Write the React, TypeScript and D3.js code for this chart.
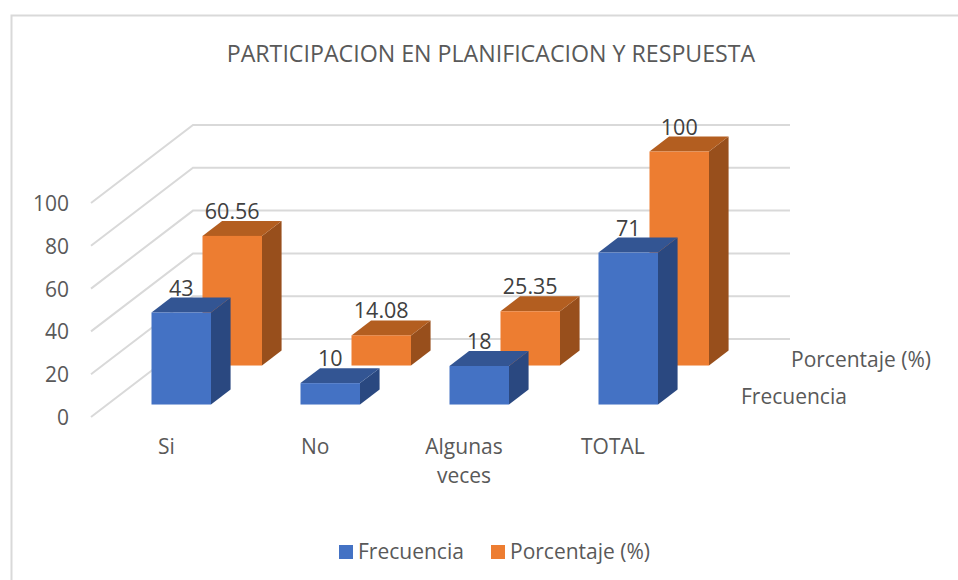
import React from "react";
import * as d3 from "d3";

const title = "PARTICIPACION EN PLANIFICACION Y RESPUESTA";
const categories = ["Si", "No", "Algunas veces", "TOTAL"];
const frecuencia = [43, 10, 18, 71];
const porcentaje = [60.56, 14.08, 25.35, 100];
const frecuenciaLabels = ["43", "10", "18", "71"];
const porcentajeLabels = ["60.56", "14.08", "25.35", "100"];
const yTicks = [0, 20, 40, 60, 80, 100];
const seriesNames = ["Frecuencia", "Porcentaje (%)"];

const FONT = "'Open Sans', sans-serif";
const BLUE = { front: "#4472c4", top: "#335593", side: "#2a4880" };
const ORANGE = { front: "#ed7d31", top: "#b35e20", side: "#984f1c" };
const GRID = "#d9d9d9";

// value to pixel height on the wall
const y = d3.scaleLinear().domain([0, 100]).range([0, 214]);
// floor depth: 0 at the front edge, 1 at the back wall
const depthX = d3.scaleLinear().domain([0, 1]).range([0, 102]);
const depthY = d3.scaleLinear().domain([0, 1]).range([0, 78]);
const FLOOR_X = 91;
const FLOOR_Y = 417;
const WALL_RIGHT = 790;
const xBand = d3.scaleBand<string>().domain(categories).range([139.5, 735.5]).paddingInner(0).paddingOuter(0);
const BAR_W = 59.5;
// per series: x shift inside the band, depth of the front face, depth of the back face
const series = [
  { values: frecuencia, labels: frecuenciaLabels, color: BLUE, shift: 12, d0: 0.16, d1: 0.352 },
  { values: porcentaje, labels: porcentajeLabels, color: ORANGE, shift: 63, d0: 0.66, d1: 0.852 },
];

function Bar({ x, value, d0, d1, color }: { x: number; value: number; d0: number; d1: number; color: typeof BLUE }) {
  const base = FLOOR_Y - depthY(d0);
  const top = base - y(value);
  const dx = depthX(d1) - depthX(d0);
  const dy = depthY(d1) - depthY(d0);
  const r = x + BAR_W;
  const p = (pts: number[][]) => pts.map((a) => a.join(",")).join(" ");
  return (
    <g>
      <polygon points={p([[r, top], [r + dx, top - dy], [r + dx, base - dy], [r, base]])} fill={color.side} />
      <polygon points={p([[x, top], [x + dx, top - dy], [r + dx, top - dy], [r, top]])} fill={color.top} />
      <rect x={x} y={top} width={BAR_W} height={y(value)} fill={color.front} />
    </g>
  );
}

export default function App() {
  const barX = (cat: string, shift: number) => (xBand(cat) as number) + shift;
  const fs = 21;
  return (
    <svg width={958} height={580} style={{ position: "absolute", left: 0, top: 0, background: "#fff" }} fontFamily={FONT}>
      <path d="M11.5,580 V15.5 H958" fill="none" stroke={GRID} strokeWidth={2} />
      <text x={491} y={62} textAnchor="middle" fontSize={23.2} fill="#595959">{title}</text>

      {yTicks.map((t) => (
        <g key={t}>
          <polyline
            points={[
              [FLOOR_X, FLOOR_Y - y(t)],
              [FLOOR_X + depthX(1), FLOOR_Y - y(t) - depthY(1)],
              [WALL_RIGHT, FLOOR_Y - y(t) - depthY(1)],
            ].map((a) => a.join(",")).join(" ")}
            fill="none"
            stroke={GRID}
            strokeWidth={2}
          />
          <text x={69} y={FLOOR_Y - y(t) + 8} textAnchor="end" fontSize={fs} fill="#595959">{t}</text>
        </g>
      ))}

      {[series[1], series[0]].map((s) =>
        categories.map((c, i) => (
          <Bar key={s.color.front + c} x={barX(c, s.shift)} value={s.values[i]} d0={s.d0} d1={s.d1} color={s.color} />
        ))
      )}

      {[series[1], series[0]].map((s) =>
        categories.map((c, i) => (
          <text
            key={"l" + s.color.front + c}
            x={barX(c, s.shift) + BAR_W / 2}
            y={FLOOR_Y - depthY(s.d0) - y(s.values[i]) - 17}
            textAnchor="middle"
            fontSize={21.5}
            fill="#404040"
          >
            {s.labels[i]}
          </text>
        ))
      )}

      <text x={158} y={454} fontSize={fs} fill="#595959">Si</text>
      <text x={301} y={454} fontSize={fs} fill="#595959">No</text>
      <text x={464} y={454} textAnchor="middle" fontSize={fs} fill="#595959">Algunas</text>
      <text x={464} y={483} textAnchor="middle" fontSize={fs} fill="#595959">veces</text>
      <text x={581} y={454} fontSize={fs} fill="#595959">TOTAL</text>

      <text x={791} y={367} fontSize={fs} fill="#595959">{seriesNames[1]}</text>
      <text x={741} y={404} fontSize={fs} fill="#595959">{seriesNames[0]}</text>

      <rect x={339} y={545} width={14} height={14} fill={BLUE.front} />
      <text x={358} y={559} fontSize={fs} fill="#595959">{seriesNames[0]}</text>
      <rect x={491} y={545} width={14} height={14} fill={ORANGE.front} />
      <text x={510} y={559} fontSize={fs} fill="#595959">{seriesNames[1]}</text>
    </svg>
  );
}
